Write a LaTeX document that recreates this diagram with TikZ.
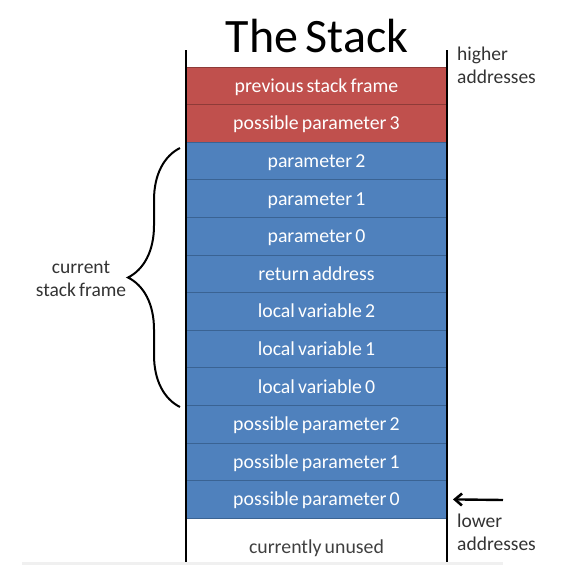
\documentclass[tikz,border=0pt]{standalone}
\usepackage{fontspec}
\setmainfont{Carlito}[WordSpace=0.7]
\usetikzlibrary{positioning,arrows.meta,decorations.pathreplacing}
\definecolor{slotred}{HTML}{C0504D}
\definecolor{slotredline}{HTML}{8E3B38}
\definecolor{slotblue}{HTML}{4F81BD}
\definecolor{slotblueline}{HTML}{3A6393}
\tikzstyle{slot} = [minimum width=261pt, minimum height=37.6pt, inner sep=0pt, outer sep=0pt, text height=17pt, text depth=4pt, font=\fontsize{19.8}{23}\selectfont, text=white]
\tikzstyle{redslot} = [slot, fill=slotred, draw=slotredline, line width=1pt]
\tikzstyle{blueslot} = [slot, fill=slotblue, draw=slotblueline, line width=1pt]
\tikzstyle{wall} = [draw, line width=2.6pt]
\tikzstyle{side} = [font=\fontsize{19.5}{23}\selectfont, inner sep=0pt, text=black!80]
\tikzstyle{pointer} = [draw, -{Straight Barb[length=7pt, width=12pt, line width=2.6pt]}, line width=2.4pt]

\begin{document}
\begin{tikzpicture}[x=1pt, y=-1pt]
    \useasboundingbox (0,0) rectangle (582,579);
    \node[font=\fontsize{48}{50}\selectfont, anchor=base] (title) at (317,52) {The Stack};

    \node[redslot] (slot1) at (316.5,85.8) {previous stack frame};
    \node[redslot, below=0pt of slot1] (slot2) {possible parameter 3};
    \node[blueslot, below=0pt of slot2] (slot3) {parameter 2};
    \node[blueslot, below=0pt of slot3] (slot4) {parameter 1};
    \node[blueslot, below=0pt of slot4] (slot5) {parameter 0};
    \node[blueslot, below=0pt of slot5] (slot6) {return address};
    \node[blueslot, below=0pt of slot6] (slot7) {local variable 2};
    \node[blueslot, below=0pt of slot7] (slot8) {local variable 1};
    \node[blueslot, below=0pt of slot8] (slot9) {local variable 0};
    \node[blueslot, below=0pt of slot9] (slot10) {possible parameter 2};
    \node[blueslot, below=0pt of slot10] (slot11) {possible parameter 1};
    \node[blueslot, below=0pt of slot11] (slot12) {possible parameter 0};
    \node[slot, minimum height=44pt, text height=31pt, text=black!75, below=0pt of slot12] (slot13) {currently unused};

    % faint rule under the stack
    \draw[black!6, line width=2.5pt] (22,563.5) -- (503,563.5);

    \draw[wall] ([yshift=17pt]slot1.north west) -- (slot13.south west);
    \draw[wall] ([yshift=17pt]slot1.north east) -- (slot13.south east);

    \node[side, align=left, anchor=north west] (higher) at (457,47) {higher\\addresses};
    \node[side, align=left, anchor=north west] (lower) at (457,514) {lower\\addresses};

    \coordinate (braceBot) at (180,407);
    \coordinate (braceTop) at (180,148);
    \draw[decorate, decoration={brace, amplitude=52pt}, line width=2pt] (braceBot) -- (braceTop);
    \node[side, align=center] (frame) at (81,279) {current\\stack frame};

    \coordinate (arrowStart) at (503,500);
    \draw[pointer] (arrowStart) -- ([xshift=6pt]slot12.east);
\end{tikzpicture}
\end{document}
